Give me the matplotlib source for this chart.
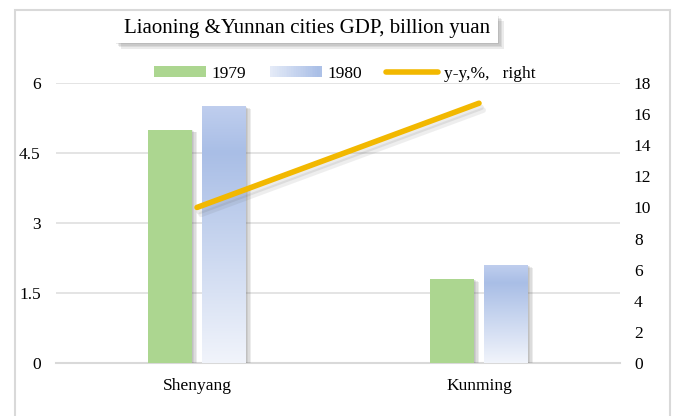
import numpy as np
from matplotlib import pyplot as plt
from matplotlib import patheffects as pe
from matplotlib.colors import LinearSegmentedColormap
from matplotlib.legend_handler import HandlerBase
from matplotlib.patches import Rectangle
from matplotlib.lines import Line2D

plt.rcParams['font.family'] = ['Liberation Serif', 'DejaVu Serif']

cities = ['Shenyang', 'Kunming']
gdp_1979 = [5.0, 1.8]
gdp_1980 = [5.5, 2.1]
yy_pct = [10.0, 16.7]
left_ticks = [0, 1.5, 3, 4.5, 6]
left_labels = ['0', '1.5', '3', '4.5', '6']
right_ticks = list(range(0, 20, 2))

green = '#acd690'
yellow = '#f2b800'
blue_grad = LinearSegmentedColormap.from_list(
    'bg', [(0, '#f1f4fb'), (0.82, '#a9bee6'), (1.0, '#bfceee')])


def soft_shadow(dx, dy, alpha, n=4):
    # a few stacked faint shadows to look blurred
    fx = []
    for k in range(n):
        s = (k + 1) / n
        fx.append(pe.SimplePatchShadow(offset=(dx * s, dy * s), shadow_rgbFace='#606060',
                                       alpha=alpha / n))
    fx.append(pe.Normal())
    return fx


class GradientHandler(HandlerBase):
    def create_artists(self, legend, orig_handle, xdescent, ydescent,
                       width, height, fontsize, trans):
        arts = []
        n = 30
        for k in range(n):
            c = blue_grad(0.15 + 0.7 * k / (n - 1))
            arts.append(Rectangle((-xdescent + width * k / n, -ydescent),
                                  width / n * 1.05, height, facecolor=c,
                                  edgecolor='none', transform=trans))
        return arts


fig = plt.figure(dpi=100, figsize=(6.77, 4.16))
# outer frame
fig.patches.append(Rectangle((15 / 677, -0.05), 655 / 677, 1.05 - 10 / 416,
                             transform=fig.transFigure, fill=False,
                             edgecolor='#d9d9d9', linewidth=1.5))

ax = fig.add_axes([56 / 677, 53 / 416, 564 / 677, 280 / 416])
ax2 = ax.twinx()
ax.set_zorder(ax2.get_zorder() + 1)
ax.patch.set_visible(False)

x = np.arange(len(cities))
w = 0.153
off = 0.096

b1 = ax.bar(x - off, gdp_1979, w, color=green, zorder=3)
for r in b1:
    r.set_path_effects(soft_shadow(4, -2, 0.45))
b2 = ax.bar(x + off, gdp_1980, w, color='#c8d5f0', zorder=3)
grad = np.linspace(0, 1, 256).reshape(-1, 1)
for r in b2:
    r.set_path_effects(soft_shadow(4, -2, 0.45))
    x0, y0 = r.get_x(), r.get_y()
    im = ax.imshow(grad, cmap=blue_grad, origin='lower', aspect='auto',
                   extent=(x0, x0 + r.get_width(), y0, y0 + r.get_height()),
                   zorder=3.5)
    im.set_clip_path(r)

line, = ax.plot(x, np.array(yy_pct) / 3.0, color=yellow, linewidth=4,
                solid_capstyle='round', zorder=5)
line.set_path_effects([pe.SimpleLineShadow(offset=(1.5, -3), shadow_color='#606060', alpha=0.12),
                       pe.SimpleLineShadow(offset=(3, -5), shadow_color='#606060', alpha=0.1),
                       pe.Normal()])

ax.set_xlim(-0.5, 1.5)
ax.set_ylim(0, 6)
ax2.set_ylim(0, 18)
ax.set_yticks(left_ticks, left_labels)
ax2.set_yticks(right_ticks)
ax.set_xticks(x, cities)
ax.yaxis.grid(True, color='#e2e2e2', linewidth=1.3, zorder=0)
ax.set_axisbelow(True)
for a in (ax, ax2):
    for s in a.spines.values():
        s.set_visible(False)
    a.tick_params(length=0, labelsize=12.5, colors='#000000')
ax.tick_params(axis='y', pad=11)
ax2.tick_params(axis='y', pad=10)
ax.tick_params(axis='x', pad=11)
ax.spines['bottom'].set_visible(True)
ax.spines['bottom'].set_color('#d9d9d9')
ax.spines['bottom'].set_linewidth(1.5)

h1 = Rectangle((0, 0), 1, 1, facecolor=green, edgecolor='none')
h2 = Rectangle((0, 0), 1, 1, facecolor='#c8d5f0', edgecolor='none')
h3 = Line2D([], [], color=yellow, linewidth=4, solid_capstyle='round')
ax.legend([h1, h2, h3], ['1979', '1980', 'y-y,%,   right'],
          handler_map={h2: GradientHandler()},
          loc='center', bbox_to_anchor=(0.5115, 1.032), ncol=3, frameon=False,
          fontsize=12.5, handlelength=3.0, handleheight=0.6, handletextpad=0.3,
          columnspacing=1.4, borderaxespad=0)

# title box
tb = Rectangle((115 / 677, 1 - 43 / 416), 383 / 677, 28 / 416, transform=fig.transFigure,
               facecolor='white', edgecolor='none', zorder=10)
tb.set_path_effects(soft_shadow(4, -4, 0.5))
fig.patches.append(tb)
fig.text(307 / 677, 1 - 29 / 416, 'Liaoning &Yunnan cities GDP, billion yuan',
         ha='center', va='center', fontsize=15, zorder=11)

plt.savefig('out.png', dpi=100)
